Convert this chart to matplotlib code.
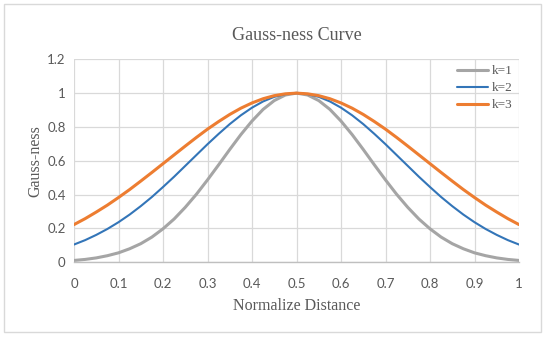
import numpy as np
import matplotlib
matplotlib.use("Agg")
import matplotlib.pyplot as plt
from matplotlib.patches import Rectangle

# valeurs lues sur la figure, pas de 0.025
distance = [i * 0.025 for i in range(41)]

k1 = [0.011, 0.017, 0.026, 0.039, 0.056, 0.080, 0.110, 0.149, 0.198, 0.256,
      0.325, 0.402, 0.487, 0.576, 0.667, 0.755, 0.835, 0.904, 0.956, 0.989,
      1.000,
      0.989, 0.956, 0.904, 0.835, 0.755, 0.667, 0.576, 0.487, 0.402, 0.325,
      0.256, 0.198, 0.149, 0.110, 0.080, 0.056, 0.039, 0.026, 0.017, 0.011]

k2 = [0.105, 0.131, 0.162, 0.197, 0.237, 0.282, 0.332, 0.386, 0.445, 0.506,
      0.570, 0.634, 0.698, 0.759, 0.817, 0.869, 0.914, 0.951, 0.978, 0.994,
      1.000,
      0.994, 0.978, 0.951, 0.914, 0.869, 0.817, 0.759, 0.698, 0.634, 0.570,
      0.506, 0.445, 0.386, 0.332, 0.282, 0.237, 0.197, 0.162, 0.131, 0.105]

k3 = [0.223, 0.258, 0.297, 0.338, 0.383, 0.430, 0.480, 0.531, 0.583, 0.635,
      0.687, 0.738, 0.787, 0.832, 0.874, 0.911, 0.942, 0.967, 0.985, 0.996,
      1.000,
      0.996, 0.985, 0.967, 0.942, 0.911, 0.874, 0.832, 0.787, 0.738, 0.687,
      0.635, 0.583, 0.531, 0.480, 0.430, 0.383, 0.338, 0.297, 0.258, 0.223]

xticks = [0, 0.1, 0.2, 0.3, 0.4, 0.5, 0.6, 0.7, 0.8, 0.9, 1]
xticklabels = ["0", "0.1", "0.2", "0.3", "0.4", "0.5", "0.6", "0.7", "0.8", "0.9", "1"]
yticks = [0, 0.2, 0.4, 0.6, 0.8, 1, 1.2]
yticklabels = ["0", "0.2", "0.4", "0.6", "0.8", "1", "1.2"]

serif = "Liberation Serif"
sans = "Lato"
txt = "#595959"
grid_col = "#D9D9D9"

fig = plt.figure(figsize=(5.5, 3.37), dpi=100)
ax = fig.add_axes([74 / 550, 1 - 262.3 / 337, 445 / 550, 203 / 337])

# cadre exterieur
fig.patches.append(Rectangle((4 / 550, 1 - 332 / 337), 537 / 550, 328 / 337,
                             transform=fig.transFigure, fill=False,
                             edgecolor=grid_col, linewidth=1))

ax.plot(distance, k1, color="#A5A5A5", lw=2.2, label="k=1", solid_capstyle="round")
ax.plot(distance, k2, color="#3375B8", lw=1.5, label="k=2", solid_capstyle="round")
ax.plot(distance, k3, color="#ED7D31", lw=2.2, label="k=3", solid_capstyle="round")

ax.set_xlim(0, 1)
ax.set_ylim(0, 1.2)
ax.set_xticks(xticks)
ax.set_xticklabels(xticklabels, family=sans, fontsize=9.5, color=txt)
ax.set_yticks(yticks)
ax.set_yticklabels(yticklabels, family=sans, fontsize=9.5, color=txt)
ax.tick_params(axis="x", length=0, pad=11)
ax.tick_params(axis="y", length=0, pad=6)

ax.grid(True, color=grid_col, lw=0.9)
ax.set_axisbelow(True)
for s in ["top", "right", "left"]:
    ax.spines[s].set_visible(False)
ax.spines["bottom"].set_color("#BFBFBF")
ax.spines["bottom"].set_linewidth(1)

ax.set_title("Gauss-ness Curve", family=serif, fontsize=13, color=txt, pad=14)
ax.set_xlabel("Normalize Distance", family=serif, fontsize=11.5, color=txt, labelpad=6)
ax.set_ylabel("Gauss-ness", family=serif, fontsize=11.5, color=txt, labelpad=3)

leg = ax.legend(loc="upper right", frameon=False, prop={"family": serif, "size": 9.5},
                handlelength=2.4, handletextpad=0.3, labelspacing=0.36,
                borderaxespad=0.05)
for t in leg.get_texts():
    t.set_color(txt)

fig.savefig("out.png", dpi=100)
